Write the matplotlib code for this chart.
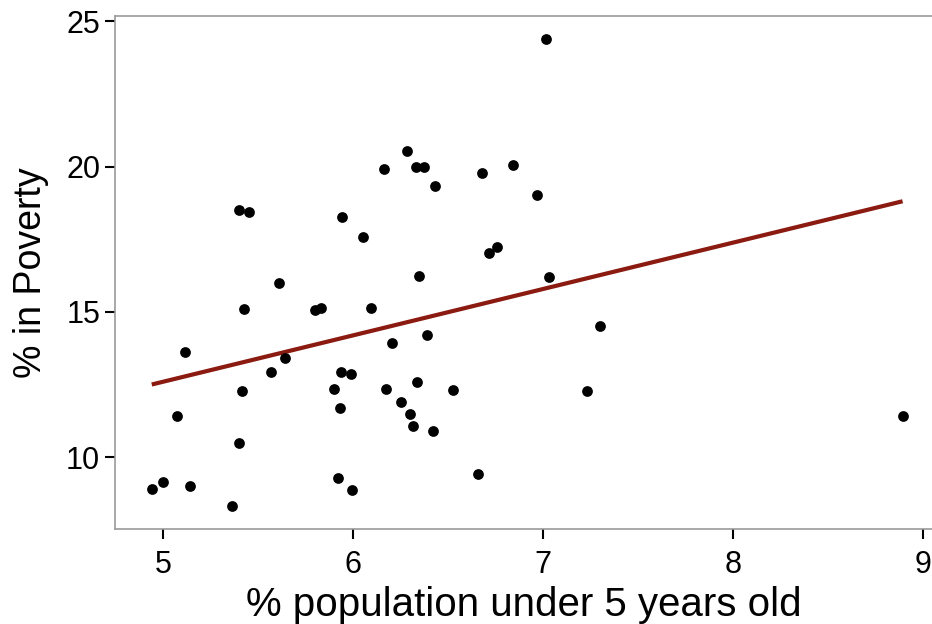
import numpy as np
import matplotlib
matplotlib.use("Agg")
import matplotlib.pyplot as plt

plt.rcParams['font.family'] = ['Liberation Sans', 'DejaVu Sans']

pct_under5 = [5.40, 5.453, 5.94, 6.052, 6.164, 6.286, 6.33, 6.374, 6.43, 6.677,
              6.84, 6.716, 6.757, 6.347, 5.608, 7.018, 6.967, 7.034, 7.30, 7.23,
              8.894, 5.425, 5.80, 5.829, 6.096, 5.114, 5.643, 5.566, 6.205, 6.388,
              5.413, 5.935, 5.987, 5.898, 5.933, 6.175, 6.335, 6.251, 6.30, 6.317,
              6.419, 6.526, 5.07, 5.40, 4.939, 5.0, 5.141, 5.362, 5.919, 5.992, 6.658]
pct_poverty = [18.50, 18.43, 18.27, 17.58, 19.91, 20.54, 20.0, 20.0, 19.34, 19.78,
               20.05, 17.03, 17.22, 16.22, 16.0, 24.38, 19.02, 16.2, 14.52, 12.29,
               11.43, 15.09, 15.07, 15.13, 15.15, 13.63, 13.43, 12.92, 13.93, 14.22,
               12.29, 12.94, 12.85, 12.35, 11.70, 12.35, 12.58, 11.89, 11.49, 11.07,
               10.89, 12.32, 11.41, 10.50, 8.91, 9.14, 9.00, 8.31, 9.30, 8.86, 9.44]
x_ticks = [5, 6, 7, 8, 9]
y_ticks = [10, 15, 20, 25]

x = np.array(pct_under5)
y = np.array(pct_poverty)
slope, intercept = np.polyfit(x, y, 1)
xl = np.array([x.min(), x.max()])

fig = plt.figure(figsize=(9.32, 6.24), dpi=100)
ax = fig.add_axes([115.3/932, 1 - 528.7/624, 1 - 115.3/932, (528.7 - 16)/624])

ax.scatter(x, y, s=60, color='black', zorder=3, linewidths=0)
ax.plot(xl, intercept + slope * xl, color='#8b1a10', lw=3.0, zorder=2,
        solid_capstyle='butt')

ax.set_xlim(4.747, 9.049)
ax.set_ylim(7.544, 25.18)
ax.set_xticks(x_ticks)
ax.set_yticks(y_ticks)
ax.set_xticklabels([str(t) for t in x_ticks])
ax.set_yticklabels([str(t) for t in y_ticks])

for s in ['top', 'left', 'bottom']:
    ax.spines[s].set_color('#9a9a9a')
    ax.spines[s].set_linewidth(1.2)
ax.spines['right'].set_visible(False)

ax.tick_params(axis='both', direction='out', length=7, width=1.5, color='black',
               labelsize=22, labelcolor='black')
ax.tick_params(axis='x', pad=8.5)
ax.tick_params(axis='y', pad=4)

ax.set_xlabel('% population under 5 years old', fontsize=29, labelpad=4)
ax.set_ylabel('% in Poverty', fontsize=27, labelpad=12)

fig.savefig('out.png', dpi=100, facecolor='white')
